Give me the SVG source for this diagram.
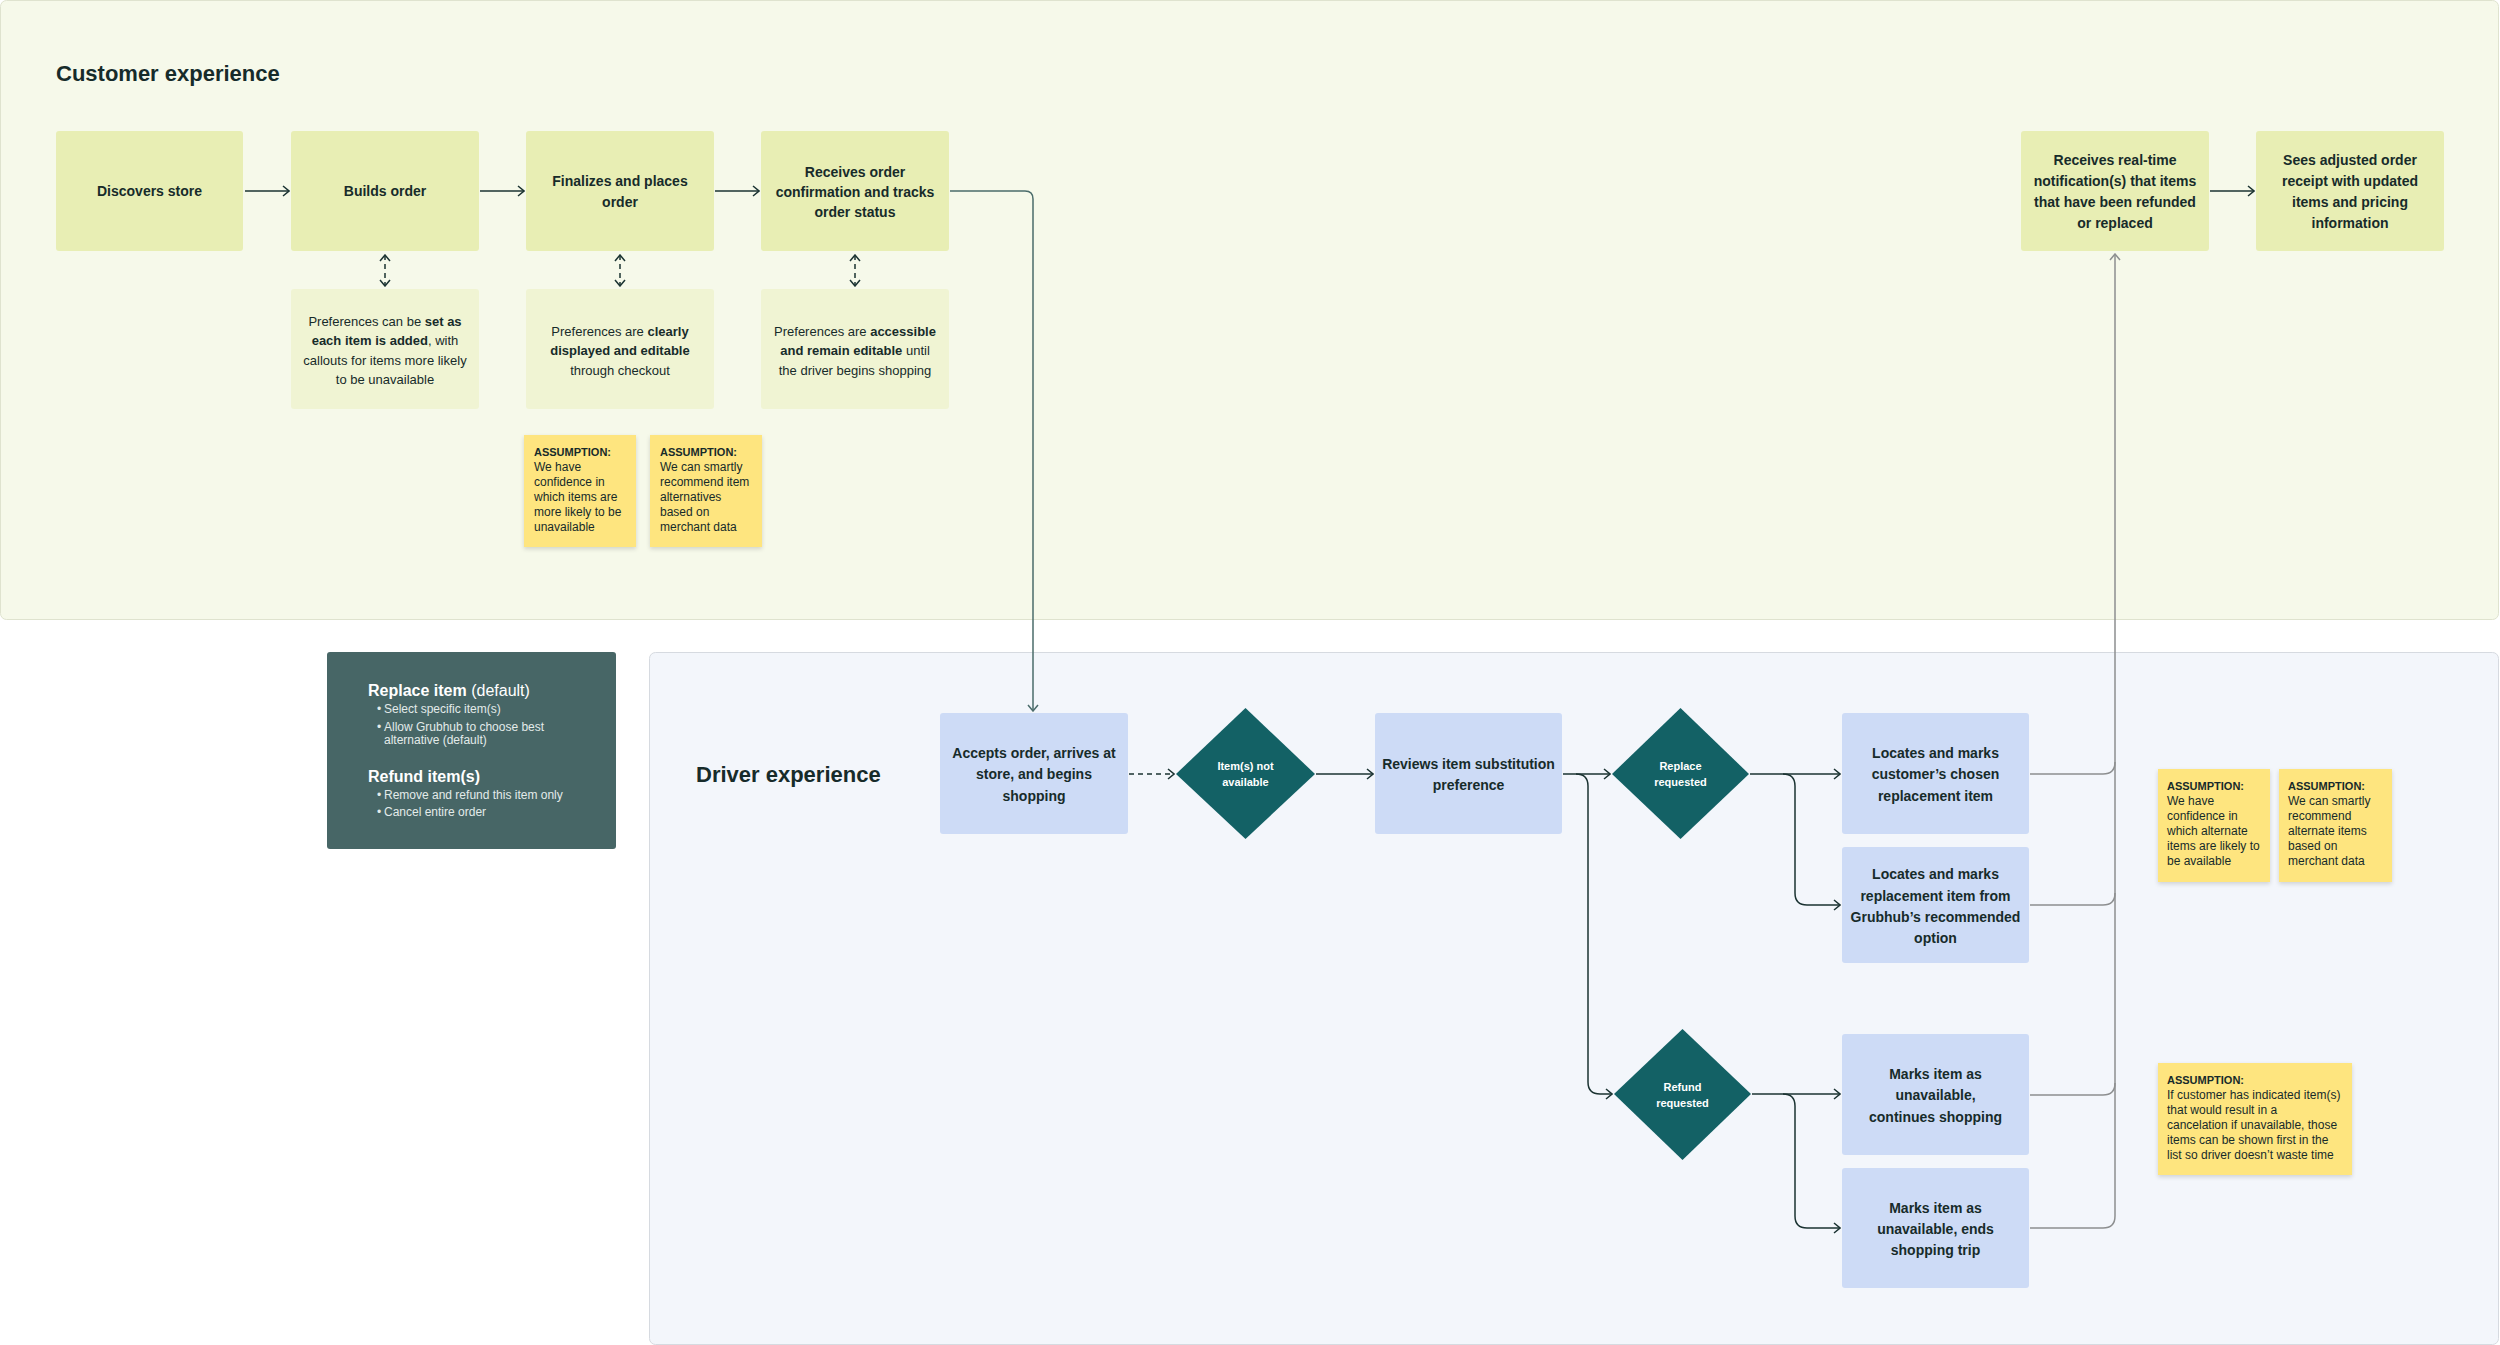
<svg xmlns="http://www.w3.org/2000/svg" width="2500" height="1345" viewBox="0 0 2500 1345">
<style>
text{font-family:"Liberation Sans",Arial,sans-serif;fill:#172b2a}
.title{font-size:22px;font-weight:bold}
.node{fill:#e8eeb4}
.pref{fill:#f0f4d3}
.dnode{fill:#cddbf6}
.dia{fill:#136165}
.sticky{fill:#fee57f;filter:url(#sh)}
.nt{font-size:14px;font-weight:bold;text-anchor:middle}
.pt{font-size:13px;text-anchor:middle}
.pt .b{font-weight:bold}
.dt{font-size:11px;font-weight:bold;text-anchor:middle;fill:#ffffff}
.sh{font-size:11px;font-weight:bold}
.sb{font-size:12px}
.lh{font-size:16px;font-weight:bold;fill:#ffffff}
.lh .r{font-weight:normal}
.lb{font-size:12px;fill:#e3ebea}
.dk{fill:none;stroke:#1b3332;stroke-width:1.5}
.gr{fill:none;stroke:#8d8f90;stroke-width:1.5}
.tl{fill:none;stroke:#4b6c6b;stroke-width:1.5}
</style>
<defs>
<filter id="sh" x="-10%" y="-10%" width="130%" height="130%">
<feDropShadow dx="0" dy="2" stdDeviation="2" flood-color="#000" flood-opacity="0.15"/>
</filter>
<marker id="ad" viewBox="0 0 8 12" markerWidth="8" markerHeight="12" refX="7" refY="6" orient="auto-start-reverse" markerUnits="userSpaceOnUse">
<path d="M1,1 L7,6 L1,11" fill="none" stroke="#1b3332" stroke-width="1.5"/>
</marker>
<marker id="ag" viewBox="0 0 8 12" markerWidth="8" markerHeight="12" refX="7" refY="6" orient="auto-start-reverse" markerUnits="userSpaceOnUse">
<path d="M1,1 L7,6 L1,11" fill="none" stroke="#8d8f90" stroke-width="1.5"/>
</marker>
<marker id="at" viewBox="0 0 8 12" markerWidth="8" markerHeight="12" refX="7" refY="6" orient="auto-start-reverse" markerUnits="userSpaceOnUse">
<path d="M1,1 L7,6 L1,11" fill="none" stroke="#4b6c6b" stroke-width="1.5"/>
</marker>
</defs>
<rect x="0" y="0" width="2500" height="1345" fill="#ffffff"/>

<g id="customer-panel">
<rect x="0.5" y="0.5" width="2498" height="619" rx="6" fill="#f6f9ea" stroke="#dfe3cf"/>
<text class="title" x="56" y="81">Customer experience</text>
</g>

<g id="driver-panel">
<rect x="649.5" y="652.5" width="1849" height="692" rx="6" fill="#f3f6fb" stroke="#d6dae0"/>
<text class="title" x="696" y="782">Driver experience</text>
</g>

<g id="legend">
<rect x="327" y="652" width="289" height="197" rx="3" fill="#476666"/>
<text class="lh" x="368" y="696">Replace item<tspan class="r"> (default)</tspan></text>
<text class="lb" x="377" y="713">•</text><text class="lb" x="384" y="713">Select specific item(s)</text>
<text class="lb" x="377" y="731">•</text><text class="lb" x="384" y="731">Allow Grubhub to choose best</text>
<text class="lb" x="384" y="744">alternative (default)</text>
<text class="lh" x="368" y="782">Refund item(s)</text>
<text class="lb" x="377" y="799">•</text><text class="lb" x="384" y="799">Remove and refund this item only</text>
<text class="lb" x="377" y="816">•</text><text class="lb" x="384" y="816">Cancel entire order</text>
</g>

<g id="connectors">
<path class="dk" d="M245,191 H289" marker-end="url(#ad)"/>
<path class="dk" d="M480,191 H524" marker-end="url(#ad)"/>
<path class="dk" d="M715,191 H759" marker-end="url(#ad)"/>
<path class="dk" d="M2210,191 H2254" marker-end="url(#ad)"/>
<path class="dk" d="M385,255 V286" stroke-dasharray="5 4" marker-start="url(#ad)" marker-end="url(#ad)"/>
<path class="dk" d="M620,255 V286" stroke-dasharray="5 4" marker-start="url(#ad)" marker-end="url(#ad)"/>
<path class="dk" d="M855,255 V286" stroke-dasharray="5 4" marker-start="url(#ad)" marker-end="url(#ad)"/>
<path class="tl" d="M950,191 H1025 Q1033,191 1033,199 V711" marker-end="url(#at)"/>
<path class="dk" d="M1129,774 H1174" stroke-dasharray="5 4" marker-end="url(#ad)"/>
<path class="dk" d="M1316,774 H1373" marker-end="url(#ad)"/>
<path class="dk" d="M1563,774 H1610" marker-end="url(#ad)"/>
<path class="dk" d="M1576,774 Q1588,774 1588,786 V1082 Q1588,1094 1600,1094 H1612" marker-end="url(#ad)"/>
<path class="dk" d="M1750,774 H1840" marker-end="url(#ad)"/>
<path class="dk" d="M1783,774 Q1795,774 1795,786 V893 Q1795,905 1807,905 H1840" marker-end="url(#ad)"/>
<path class="dk" d="M1752,1094 H1840" marker-end="url(#ad)"/>
<path class="dk" d="M1783,1094 Q1795,1094 1795,1106 V1216 Q1795,1228 1807,1228 H1840" marker-end="url(#ad)"/>
<path class="gr" d="M2030,1228 H2103 Q2115,1228 2115,1216 V254" marker-end="url(#ag)"/>
<path class="gr" d="M2030,1095 H2103 Q2115,1095 2115,1083"/>
<path class="gr" d="M2030,905 H2103 Q2115,905 2115,893"/>
<path class="gr" d="M2030,774 H2103 Q2115,774 2115,762"/>
</g>

<g id="discovers-store">
<rect class="node" x="56" y="131" width="187" height="120" rx="3"/>
<text class="nt" x="149.5" y="196">Discovers store</text>
</g>
<g id="builds-order">
<rect class="node" x="291" y="131" width="188" height="120" rx="3"/>
<text class="nt" x="385" y="196">Builds order</text>
</g>
<g id="finalizes-order">
<rect class="node" x="526" y="131" width="188" height="120" rx="3"/>
<text class="nt" x="620" y="186">Finalizes and places</text>
<text class="nt" x="620" y="207">order</text>
</g>
<g id="receives-confirmation">
<rect class="node" x="761" y="131" width="188" height="120" rx="3"/>
<text class="nt" x="855" y="177">Receives order</text>
<text class="nt" x="855" y="197">confirmation and tracks</text>
<text class="nt" x="855" y="217">order status</text>
</g>
<g id="receives-notification">
<rect class="node" x="2021" y="131" width="188" height="120" rx="3"/>
<text class="nt" x="2115" y="165">Receives real-time</text>
<text class="nt" x="2115" y="186">notification(s) that items</text>
<text class="nt" x="2115" y="207">that have been refunded</text>
<text class="nt" x="2115" y="228">or replaced</text>
</g>
<g id="sees-receipt">
<rect class="node" x="2256" y="131" width="188" height="120" rx="3"/>
<text class="nt" x="2350" y="165">Sees adjusted order</text>
<text class="nt" x="2350" y="186">receipt with updated</text>
<text class="nt" x="2350" y="207">items and pricing</text>
<text class="nt" x="2350" y="228">information</text>
</g>

<g id="pref-builds">
<rect class="pref" x="291" y="289" width="188" height="120" rx="3"/>
<text class="pt" x="385" y="325.5">Preferences can be <tspan class="b">set as</tspan></text>
<text class="pt" x="385" y="345"><tspan class="b">each item is added</tspan>, with</text>
<text class="pt" x="385" y="364.5">callouts for items more likely</text>
<text class="pt" x="385" y="384">to be unavailable</text>
</g>
<g id="pref-finalizes">
<rect class="pref" x="526" y="289" width="188" height="120" rx="3"/>
<text class="pt" x="620" y="335.5">Preferences are <tspan class="b">clearly</tspan></text>
<text class="pt" x="620" y="355"><tspan class="b">displayed and editable</tspan></text>
<text class="pt" x="620" y="374.5">through checkout</text>
</g>
<g id="pref-receives">
<rect class="pref" x="761" y="289" width="188" height="120" rx="3"/>
<text class="pt" x="855" y="335.5">Preferences are <tspan class="b">accessible</tspan></text>
<text class="pt" x="855" y="355"><tspan class="b">and remain editable</tspan> until</text>
<text class="pt" x="855" y="374.5">the driver begins shopping</text>
</g>

<g id="assumption-1">
<rect class="sticky" x="524" y="435" width="112" height="112"/>
<text class="sh" x="534" y="456">ASSUMPTION:</text>
<text class="sb" x="534" y="471">We have</text>
<text class="sb" x="534" y="486">confidence in</text>
<text class="sb" x="534" y="501">which items are</text>
<text class="sb" x="534" y="516">more likely to be</text>
<text class="sb" x="534" y="531">unavailable</text>
</g>
<g id="assumption-2">
<rect class="sticky" x="650" y="435" width="112" height="112"/>
<text class="sh" x="660" y="456">ASSUMPTION:</text>
<text class="sb" x="660" y="471">We can smartly</text>
<text class="sb" x="660" y="486">recommend item</text>
<text class="sb" x="660" y="501">alternatives</text>
<text class="sb" x="660" y="516">based on</text>
<text class="sb" x="660" y="531">merchant data</text>
</g>

<g id="accepts-order">
<rect class="dnode" x="940" y="713" width="188" height="121" rx="3"/>
<text class="nt" x="1034" y="758">Accepts order, arrives at</text>
<text class="nt" x="1034" y="779">store, and begins</text>
<text class="nt" x="1034" y="801">shopping</text>
</g>
<g id="items-not-available">
<polygon class="dia" points="1176,774 1245.5,708 1315,774 1245.5,839"/>
<text class="dt" x="1245.5" y="770">Item(s) not</text>
<text class="dt" x="1245.5" y="786">available</text>
</g>
<g id="reviews-preference">
<rect class="dnode" x="1375" y="713" width="187" height="121" rx="3"/>
<text class="nt" x="1468.5" y="769">Reviews item substitution</text>
<text class="nt" x="1468.5" y="790">preference</text>
</g>
<g id="replace-requested">
<polygon class="dia" points="1612,774 1680.5,708 1749,774 1680.5,839"/>
<text class="dt" x="1680.5" y="770">Replace</text>
<text class="dt" x="1680.5" y="786">requested</text>
</g>
<g id="refund-requested">
<polygon class="dia" points="1614,1094 1682.5,1029 1751,1094 1682.5,1160"/>
<text class="dt" x="1682.5" y="1091">Refund</text>
<text class="dt" x="1682.5" y="1107">requested</text>
</g>
<g id="locates-chosen">
<rect class="dnode" x="1842" y="713" width="187" height="121" rx="3"/>
<text class="nt" x="1935.5" y="758">Locates and marks</text>
<text class="nt" x="1935.5" y="779">customer’s chosen</text>
<text class="nt" x="1935.5" y="801">replacement item</text>
</g>
<g id="locates-recommended">
<rect class="dnode" x="1842" y="847" width="187" height="116" rx="3"/>
<text class="nt" x="1935.5" y="879">Locates and marks</text>
<text class="nt" x="1935.5" y="901">replacement item from</text>
<text class="nt" x="1935.5" y="922">Grubhub’s recommended</text>
<text class="nt" x="1935.5" y="943">option</text>
</g>
<g id="marks-continues">
<rect class="dnode" x="1842" y="1034" width="187" height="121" rx="3"/>
<text class="nt" x="1935.5" y="1079">Marks item as</text>
<text class="nt" x="1935.5" y="1100">unavailable,</text>
<text class="nt" x="1935.5" y="1122">continues shopping</text>
</g>
<g id="marks-ends">
<rect class="dnode" x="1842" y="1168" width="187" height="120" rx="3"/>
<text class="nt" x="1935.5" y="1213">Marks item as</text>
<text class="nt" x="1935.5" y="1234">unavailable, ends</text>
<text class="nt" x="1935.5" y="1255">shopping trip</text>
</g>

<g id="assumption-3">
<rect class="sticky" x="2158" y="769" width="112" height="113"/>
<text class="sh" x="2167" y="790">ASSUMPTION:</text>
<text class="sb" x="2167" y="805">We have</text>
<text class="sb" x="2167" y="820">confidence in</text>
<text class="sb" x="2167" y="835">which alternate</text>
<text class="sb" x="2167" y="850">items are likely to</text>
<text class="sb" x="2167" y="865">be available</text>
</g>
<g id="assumption-4">
<rect class="sticky" x="2279" y="769" width="113" height="113"/>
<text class="sh" x="2288" y="790">ASSUMPTION:</text>
<text class="sb" x="2288" y="805">We can smartly</text>
<text class="sb" x="2288" y="820">recommend</text>
<text class="sb" x="2288" y="835">alternate items</text>
<text class="sb" x="2288" y="850">based on</text>
<text class="sb" x="2288" y="865">merchant data</text>
</g>
<g id="assumption-5">
<rect class="sticky" x="2158" y="1063" width="194" height="112"/>
<text class="sh" x="2167" y="1084">ASSUMPTION:</text>
<text class="sb" x="2167" y="1099">If customer has indicated item(s)</text>
<text class="sb" x="2167" y="1114">that would result in a</text>
<text class="sb" x="2167" y="1129">cancelation if unavailable, those</text>
<text class="sb" x="2167" y="1144">items can be shown first in the</text>
<text class="sb" x="2167" y="1159">list so driver doesn’t waste time</text>
</g>
</svg>
